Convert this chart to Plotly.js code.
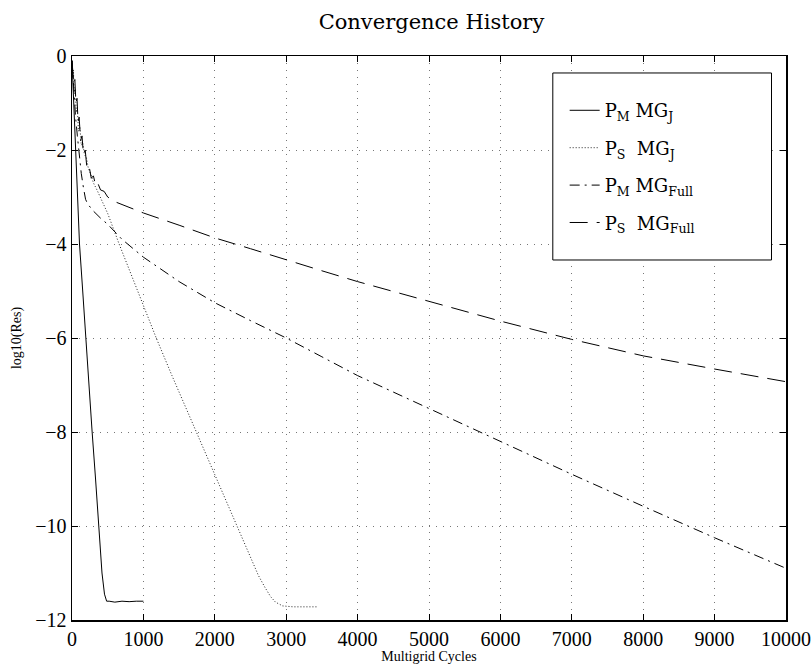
<!DOCTYPE html>
<html>
<head>
<meta charset="utf-8">
<script src="https://cdn.plot.ly/plotly-3.0.1.min.js"></script>
<style>html,body{margin:0;padding:0;background:#fff;}#chart{width:811px;height:670px;}</style>
</head>
<body>
<div id="chart"></div>
<script>
// P_M MG_J (solid)
const cyclesPMJ = [0, 5, 10, 20, 30, 40, 50, 70, 105, 150, 200, 282, 330, 375, 420, 455, 470, 485, 520, 600, 700, 800, 900, 1000];
const resPMJ = [-0.1, -0.3, -0.2, -0.8, -1.3, -1.7, -2.0, -2.5, -4.0, -5.0, -6.2, -8.0, -9.0, -10.0, -11.0, -11.45, -11.56, -11.6, -11.6, -11.62, -11.6, -11.61, -11.6, -11.6];

// P_S MG_J (dotted)
const cyclesPSJ = [0, 10, 20, 30, 45, 60, 75, 90, 110, 130, 150, 175, 200, 230, 260, 300, 350, 420, 500, 660, 800, 1000, 1180, 1400, 1740, 2000, 2310, 2500, 2610, 2700, 2780, 2850, 2950, 3100, 3250, 3450];
const resPSJ = [-0.1, -0.4, -0.3, -0.8, -0.7, -1.2, -1.1, -1.6, -1.5, -1.9, -1.85, -2.1, -2.15, -2.4, -2.5, -2.7, -2.85, -3.1, -3.35, -4.0, -4.55, -5.3, -6.0, -6.8, -8.0, -8.9, -10.0, -10.7, -11.05, -11.3, -11.5, -11.62, -11.7, -11.72, -11.72, -11.72];

// P_M MG_Full (dash-dot)
const cyclesPMF = [0, 15, 30, 50, 75, 100, 130, 160, 190, 220, 260, 300, 400, 500, 700, 1000, 1500, 2000, 2500, 3000, 3500, 4000, 5000, 6000, 7000, 8000, 9000, 10000];
const resPMF = [-0.1, -0.5, -0.9, -1.3, -1.7, -2.1, -2.5, -2.8, -3.05, -3.15, -3.22, -3.3, -3.45, -3.58, -3.9, -4.28, -4.8, -5.25, -5.63, -6.0, -6.4, -6.8, -7.5, -8.2, -8.9, -9.58, -10.25, -10.9];

// P_S MG_Full (dashed)
const cyclesPSF = [0, 10, 25, 40, 55, 70, 85, 100, 120, 140, 160, 185, 210, 240, 270, 300, 330, 360, 400, 450, 500, 600, 800, 1000, 1500, 2000, 2500, 3000, 3500, 4000, 5000, 6000, 7000, 8000, 9000, 10000];
const resPSF = [-0.1, -0.3, -0.6, -0.5, -1.0, -0.9, -1.4, -1.3, -1.8, -1.7, -2.1, -2.0, -2.4, -2.35, -2.6, -2.55, -2.75, -2.7, -2.85, -2.88, -3.0, -3.1, -3.22, -3.34, -3.6, -3.87, -4.1, -4.34, -4.57, -4.8, -5.22, -5.64, -6.03, -6.38, -6.66, -6.93];

const seriesNames = [
  'P<sub>M</sub> MG<sub>J</sub>',
  'P<sub>S</sub>  MG<sub>J</sub>',
  'P<sub>M</sub> MG<sub>Full</sub>',
  'P<sub>S</sub>  MG<sub>Full</sub>'
];
const xTicks = [0, 1000, 2000, 3000, 4000, 5000, 6000, 7000, 8000, 9000, 10000];
const yTicks = [0, -2, -4, -6, -8, -10, -12];

const serif = 'Liberation Serif, DejaVu Serif, serif';
const serif2 = 'DejaVu Serif, Liberation Serif, serif';
function tr(x, y, name, dash, color, group) {
  return {x: x, y: y, name: name, type: 'scatter', mode: 'lines', legendgroup: group,
    line: {color: color, width: 1, dash: dash}};
}
const data = [
  tr(cyclesPMJ, resPMJ, seriesNames[0], 'solid', '#000', 'a'),
  tr(cyclesPSJ, resPSJ, seriesNames[1], '1px,2px', '#222', 'b'),
  tr(cyclesPMF, resPMF, seriesNames[2], '10px,5px,2px,5px', '#000', 'c'),
  tr(cyclesPSF, resPSF, seriesNames[3], '18px,9px', '#000', 'd')
];
const axBase = {
  showline: true, linecolor: '#000', linewidth: 1.5, mirror: 'ticks',
  ticks: 'inside', ticklen: 6, tickcolor: '#000', tickwidth: 1,
  showgrid: true, gridcolor: '#777', gridwidth: 1, griddash: '1px,6px',
  zeroline: false, tickfont: {family: serif, size: 20, color: '#000'}
};
const layout = {
  width: 811, height: 670,
  margin: {l: 71.5, r: 24.5, t: 56, b: 50},
  paper_bgcolor: '#fff', plot_bgcolor: '#fff',
  title: {text: 'Convergence History', font: {family: serif2, size: 21, color: '#000'}, x: 0.532, xanchor: 'center', y: 0.967, yanchor: 'middle'},
  xaxis: Object.assign({}, axBase, {range: [0, 10000], tickvals: xTicks, ticktext: xTicks.map(String),
    title: {text: 'Multigrid Cycles', font: {family: serif, size: 14, color: '#000'}, standoff: 0}}),
  yaxis: Object.assign({}, axBase, {range: [-12, 0], tickvals: yTicks,
    title: {text: 'log10(Res)', font: {family: serif, size: 14, color: '#000'}, standoff: 10}}),
  showlegend: true,
  legend: {x: 0.69, y: 0.936, xanchor: 'left', yanchor: 'top', bgcolor: 'rgba(0,0,0,0)', borderwidth: 0,
    traceorder: 'grouped', tracegroupgap: 11, font: {family: serif2, size: 18, color: '#000'}},
  shapes: [{type: 'rect', xref: 'paper', yref: 'paper', x0: 0.6734, x1: 0.9797, y0: 0.6383, y1: 0.9699,
    line: {color: '#000', width: 1}, fillcolor: '#fff', layer: 'above'}]
};
Plotly.newPlot('chart', data, layout, {displayModeBar: false, staticPlot: true});
</script>
</body>
</html>
